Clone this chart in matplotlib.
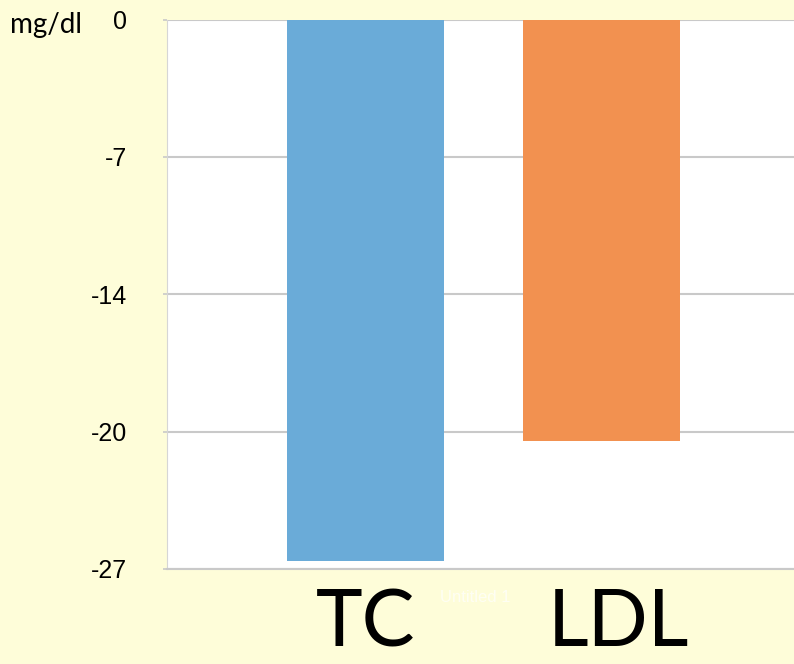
import matplotlib.pyplot as plt
import matplotlib.transforms as mtransforms
import numpy as np

# data
categories = ['TC', 'LDL']
changes = [-26.6, -20.7]
bar_colors = ['#6aabd8', '#f29150']
tick_values = list(np.linspace(0, -27, 5))
tick_labels = ['0', '-7', '-14', '-20', '-27']

bg = '#fefdd9'
grid_grey = '#c9c9c9'

fig = plt.figure(figsize=(7.94, 6.64), dpi=100)
fig.patch.set_facecolor(bg)
ax = fig.add_axes([167 / 794, 1 - 569 / 664, 1 - 167 / 794, (569 - 19.5) / 664])
ax.set_facecolor('white')

x = np.arange(len(categories))
ax.bar(x, changes, width=0.665, color=bar_colors, zorder=3)

ax.set_ylim(-27, 0)
ax.set_xlim(-0.841, 1.816)
ax.set_yticks(tick_values)
ax.set_yticklabels(tick_labels, fontsize=18, family='Liberation Sans')
ax.yaxis.grid(True, color=grid_grey, lw=1.5, zorder=0)
ax.tick_params(axis='y', length=3, color=grid_grey, width=1.2, pad=26)

ax.set_xticks(x)
ax.set_xticklabels(categories, fontsize=57, family='Lato')
ax.tick_params(axis='x', length=0, pad=14)
# LDL label sits a little right of its bar in the original
lbl = ax.get_xticklabels()[1]
lbl.set_transform(lbl.get_transform() + mtransforms.ScaledTranslation(17 / 100, 0, fig.dpi_scale_trans))

for s in ['top', 'right']:
    ax.spines[s].set_visible(False)
ax.spines['left'].set_color('#d6d6d6')
ax.spines['bottom'].set_color(grid_grey)
ax.spines['bottom'].set_linewidth(1.5)

fig.text(10 / 794, 1 - 25 / 664, 'mg/dl', fontsize=20, family='Lato', va='center', ha='left')
fig.text(440 / 794, 1 - 598 / 664, 'Untitled 1', fontsize=12, color='white',
         alpha=0.7, family='Liberation Sans', va='center', ha='left')

fig.savefig('out.png', dpi=100, facecolor=bg)
